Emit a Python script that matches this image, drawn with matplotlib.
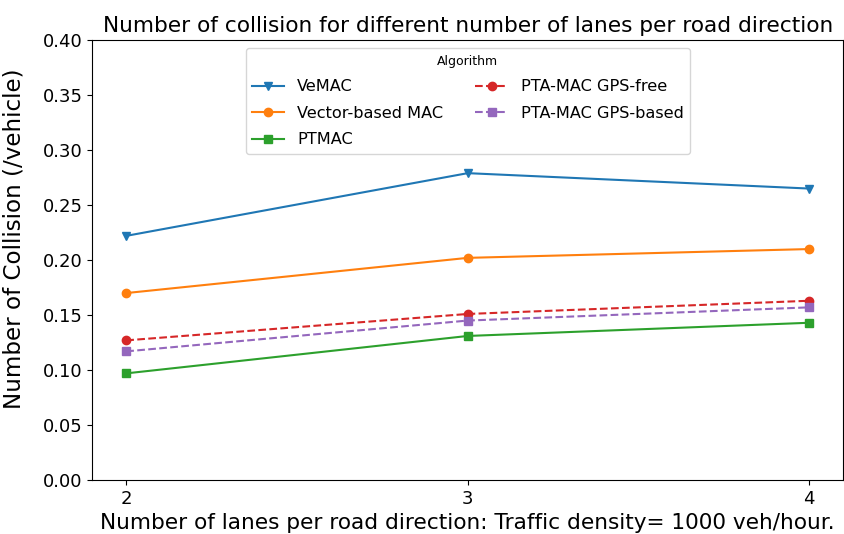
import matplotlib
matplotlib.use("Agg")
import matplotlib.pyplot as plt

# Number of lanes per road direction
lanes = [2, 3, 4]

# Collisions per vehicle for each MAC algorithm
vemac = [0.222, 0.279, 0.265]
vector_mac = [0.170, 0.202, 0.210]
ptmac = [0.097, 0.131, 0.143]
pta_gps_free = [0.127, 0.151, 0.163]
pta_gps_based = [0.117, 0.145, 0.157]

fig = plt.figure(figsize=(8.45, 5.34), dpi=100)
ax = fig.add_axes([0.109, 0.101, 0.889, 0.824])

ax.plot(lanes, vemac, marker="v", color="tab:blue", label="VeMAC")
ax.plot(lanes, vector_mac, marker="o", color="tab:orange", label="Vector-based MAC")
ax.plot(lanes, ptmac, marker="s", color="tab:green", label="PTMAC")
ax.plot(lanes, pta_gps_free, marker="o", linestyle="--", color="tab:red",
        label="PTA-MAC GPS-free")
ax.plot(lanes, pta_gps_based, marker="s", linestyle="--", color="tab:purple",
        label="PTA-MAC GPS-based")

ax.set_ylim(0, 0.40)
ax.set_xticks(lanes)
ax.set_yticks([0.00, 0.05, 0.10, 0.15, 0.20, 0.25, 0.30, 0.35, 0.40])
ax.tick_params(labelsize=13)

ax.set_title("Number of collision for different number of lanes per road direction",
             fontsize=15.6)
ax.set_xlabel("Number of lanes per road direction: Traffic density= 1000 veh/hour.",
              fontsize=15.6)
ax.set_ylabel("Number of Collision (/vehicle)", fontsize=16.6)
ax.yaxis.set_label_coords(-0.088, 0.548)

ax.legend(title="Algorithm", ncol=2, loc="upper center", fontsize=11.6,
          title_fontsize=9, labelspacing=0.72)

fig.savefig("out.png", dpi=100)
